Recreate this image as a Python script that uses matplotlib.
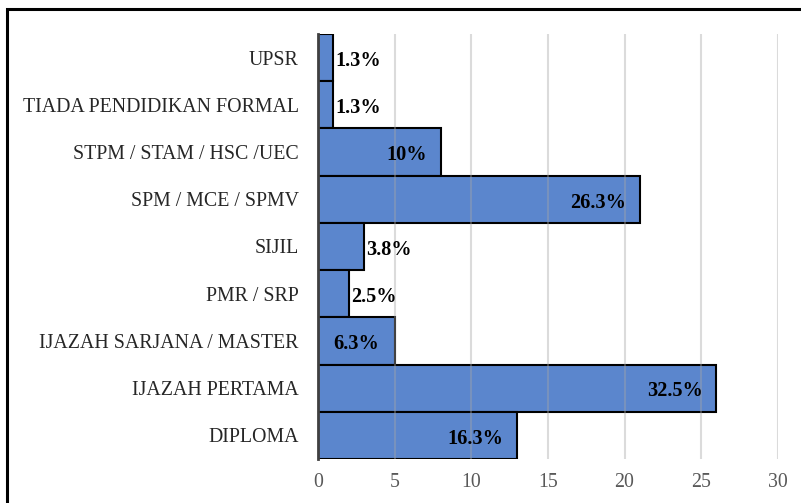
import matplotlib.pyplot as plt
from matplotlib.patches import Rectangle

categories = ['UPSR', 'TIADA PENDIDIKAN FORMAL', 'STPM / STAM / HSC /UEC',
              'SPM / MCE / SPMV', 'SIJIL', 'PMR / SRP',
              'IJAZAH SARJANA / MASTER', 'IJAZAH PERTAMA', 'DIPLOMA']
counts = [1, 1, 8, 21, 3, 2, 5, 26, 13]
labels = ['1.3%', '1.3%', '10%', '26.3%', '3.8%', '2.5%', '6.3%', '32.5%', '16.3%']

plt.rcParams['font.family'] = 'Liberation Serif'

fig = plt.figure(figsize=(8.01, 5.03), dpi=100)
ax = fig.add_axes([0.397, 0.0875, 0.574, 0.845])

y = list(range(len(categories)))[::-1]
ax.barh(y, counts, height=1.0, color='#5B86CD', edgecolor='black',
        linewidth=1.5, zorder=2)

for yi, c, lab in zip(y, counts, labels):
    if c >= 8:
        ax.text(c - 0.9, yi - 0.07, lab, ha='right', va='center',
                fontsize=14.6, fontweight='bold', zorder=4)
    elif c >= 5:
        ax.text(c / 2, yi - 0.07, lab, ha='center', va='center',
                fontsize=14.6, fontweight='bold', zorder=4)
    else:
        ax.text(c + 0.15, yi - 0.07, lab, ha='left', va='center',
                fontsize=14.6, fontweight='bold', zorder=4)

ax.set_xlim(0, 30)
ax.set_ylim(-0.5, len(categories) - 0.5)
ax.set_xticks(range(0, 31, 5))
ax.set_yticks(y)
ax.set_yticklabels(categories)
ax.tick_params(axis='both', length=0, labelsize=14.3, colors='#404040')
ax.tick_params(axis='y', pad=14, labelcolor='#262626')
ax.tick_params(axis='x', pad=10, labelcolor='#595959')
ax.xaxis.grid(True, color='#A6A6A6', linewidth=1.5, alpha=0.4, zorder=3)
ax.set_axisbelow(False)
for s in ['top', 'right', 'bottom']:
    ax.spines[s].set_visible(False)
ax.spines['left'].set_linewidth(2)
ax.spines['left'].set_color('#404040')
ax.spines['left'].set_zorder(5)

fig.patches.append(Rectangle((7 / 801, -0.1), 1.1, 1 - 8.5 / 503 + 0.1,
                             transform=fig.transFigure, fill=False,
                             edgecolor='black', linewidth=2.2))

fig.savefig('out.png', dpi=100)
